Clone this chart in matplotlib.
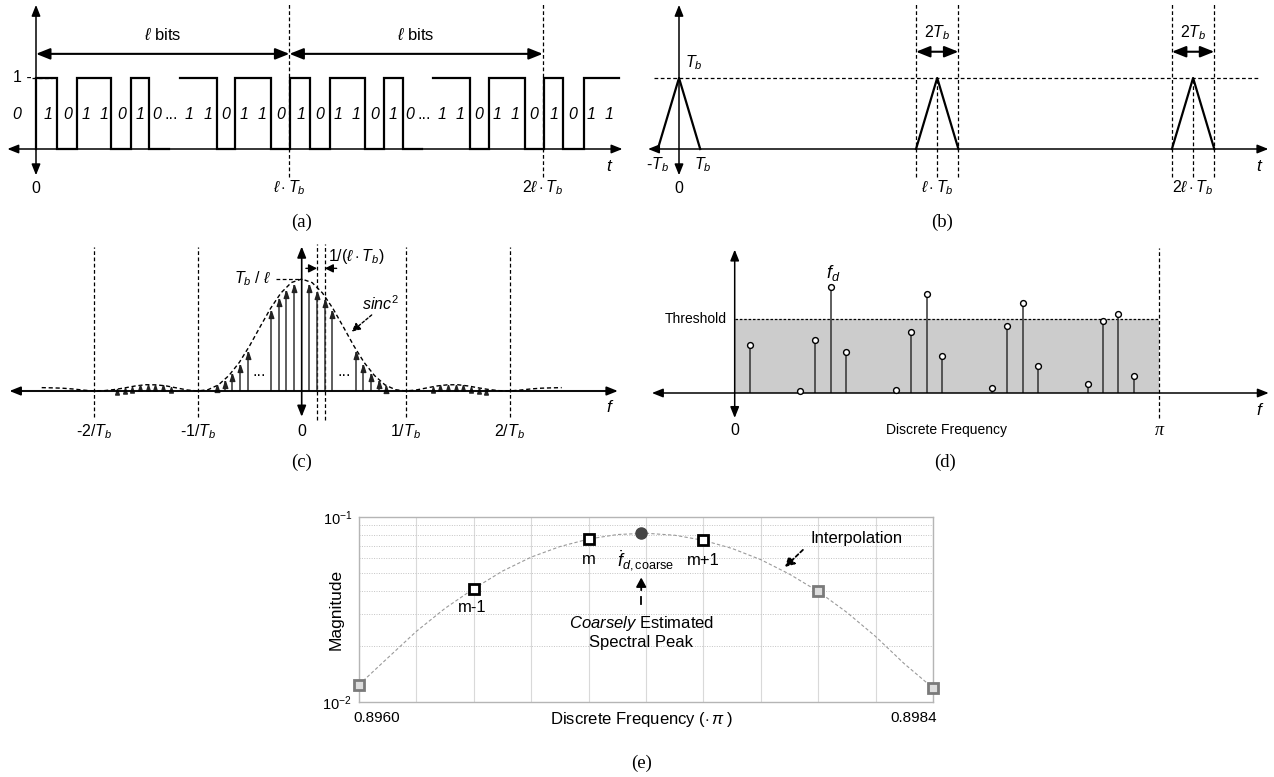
import numpy as np
import matplotlib.pyplot as plt
from matplotlib.ticker import FixedLocator, NullFormatter

plt.rcParams['font.family'] = ['Liberation Sans', 'DejaVu Sans']
plt.rcParams['mathtext.fontset'] = 'custom'
plt.rcParams['mathtext.rm'] = 'Liberation Sans'
plt.rcParams['mathtext.it'] = 'Liberation Sans:italic'
plt.rcParams['mathtext.bf'] = 'Liberation Sans:bold'

# ---------------- values ----------------
# (a) bit stream: runs of constant level, time in bit periods
run_start = [0.0, 1.15, 2.28, 4.16, 5.23, 6.25, 7.98, 10.0, 11.02, 13.0,
             14.05, 15.12, 16.26, 18.15, 19.21, 20.27, 21.96, 23.99, 25.03, 27.03,
             28.05, 29.13, 30.26]
run_end = [1.15, 2.28, 4.16, 5.23, 6.25, 7.33, 10.0, 11.02, 13.0, 14.05,
           15.12, 16.26, 18.15, 19.21, 20.27, 21.3, 23.99, 25.03, 27.03, 28.05,
           29.13, 30.26, 32.2]
run_level = [1, 0, 1, 0, 1, 0, 1, 0, 1, 0,
             1, 0, 1, 0, 1, 0, 1, 0, 1, 0,
             1, 0, 1]
bit_x = [-1.09, 0.67, 1.73, 2.75, 3.76, 4.71, 5.72, 6.69, 7.48, 8.45, 9.51,
         10.48, 11.47, 12.51, 13.53, 14.63, 15.67, 16.68, 17.7, 18.71, 19.7,
         20.63, 21.46, 22.43, 23.45, 24.44, 25.47, 26.49, 27.51, 28.61, 29.65,
         30.66, 31.68]
bit_txt = ["0", "1", "0", "1", "1", "0", "1", "0", "...", "1", "1",
           "0", "1", "1", "0", "1", "0", "1", "1", "0", "1",
           "0", "...", "1", "1", "0", "1", "1", "0", "1", "0",
           "1", "1"]
period_a = 14.0            # l*Tb in bit periods

# (b) triangular peaks, time in Tb
tri_center = [0.0, 12.18, 24.25]
tri_half = 1.0
tri_height = 1.0

# (c) line spectrum, f in 1/Tb, height relative to Tb/l
line_step = 0.074
main_k = [-11, -10, -9, -8, -7, -4, -3, -2, -1, 1, 2, 3, 4, 7, 8, 9, 10, 11]
main_h = [0.05, 0.09, 0.155, 0.235, 0.345, 0.71, 0.82, 0.89, 0.95,
          0.95, 0.885, 0.81, 0.71, 0.345, 0.235, 0.155, 0.09, 0.045]
side_k = [-24, -23, -22, -21, -20, -19, -18, -17, 17, 18, 19, 20, 21, 22, 23, 24]
side_h = [0.016, 0.027, 0.04, 0.05, 0.055, 0.055, 0.05, 0.04,
          0.04, 0.05, 0.055, 0.055, 0.05, 0.04, 0.027, 0.016]
env_f = [-2.5, -2.4, -2.3, -2.2, -2.1, -2.0, -1.9, -1.8, -1.7, -1.6, -1.5,
         -1.4, -1.3, -1.2, -1.1, -1.0, -0.9, -0.8, -0.7, -0.6, -0.5, -0.4,
         -0.3, -0.2, -0.1, 0.0, 0.1, 0.2, 0.3, 0.4, 0.5, 0.6, 0.7, 0.8, 0.9,
         1.0, 1.1, 1.2, 1.3, 1.4, 1.5, 1.6, 1.7, 1.8, 1.9, 2.0, 2.1, 2.2, 2.3,
         2.4, 2.5]
env_h = [0.03, 0.028, 0.025, 0.018, 0.008, 0.0, 0.003, 0.013, 0.028, 0.045,
         0.056, 0.055, 0.045, 0.027, 0.009, 0.0, 0.012, 0.055, 0.138, 0.255,
         0.405, 0.573, 0.737, 0.875, 0.968, 1.0, 0.968, 0.875, 0.737, 0.573,
         0.405, 0.255, 0.138, 0.055, 0.012, 0.0, 0.009, 0.027, 0.045, 0.055,
         0.056, 0.045, 0.028, 0.013, 0.003, 0.0, 0.008, 0.018, 0.025, 0.028,
         0.03]

# (d) discrete spectrum, f in units of pi, height relative to threshold
stem_x = [0.035, 0.154, 0.19, 0.226, 0.263, 0.38, 0.416, 0.452, 0.489,
          0.606, 0.642, 0.678, 0.714, 0.832, 0.868, 0.904, 0.94]
stem_h = [0.641, 0.022, 0.717, 1.426, 0.547, 0.045, 0.816, 1.332, 0.502,
          0.072, 0.897, 1.211, 0.359, 0.121, 0.964, 1.063, 0.224]
threshold = 1.0

# (e) coarse peak search
bin_x = [0.8960, 0.89648, 0.89696, 0.89744, 0.89792, 0.8984]
bin_mag = [0.0124, 0.0410, 0.0760, 0.0748, 0.0396, 0.0119]
bin_used = [False, True, True, True, False, False]
peak_x, peak_mag = 0.89718, 0.0816
interp_x = [0.89600, 0.89612, 0.89624, 0.89636, 0.89648, 0.89660, 0.89672,
            0.89684, 0.89696, 0.89708, 0.89720, 0.89732, 0.89744, 0.89756,
            0.89768, 0.89780, 0.89792, 0.89804, 0.89816, 0.89828, 0.89840]
interp_mag = [0.0124, 0.0173, 0.0241, 0.0321, 0.0410, 0.0510, 0.0607,
              0.0692, 0.0760, 0.0804, 0.0817, 0.0797, 0.0748, 0.0676,
              0.0588, 0.0491, 0.0396, 0.0305, 0.0226, 0.0161, 0.0119]

# ---------------- figure ----------------
W, H = 1274, 777
fig = plt.figure(figsize=(W / 100, H / 100), dpi=100)

FS = 11.5
DASH = (0, (3, 2))
HEAD = [(0, 0), (-0.33, -1), (0.33, -1), (0, 0)]


def panel(box, origin, scale):
    """Axes over a pixel box; origin/scale map data units to pixels."""
    x0, y0, x1, y1 = box
    ax = fig.add_axes([x0 / W, 1 - y1 / H, (x1 - x0) / W, (y1 - y0) / H])
    ox, oy = origin
    sx, sy = scale
    ax.set_xlim((x0 - ox) / sx, (x1 - ox) / sx)
    ax.set_ylim((oy - y1) / sy, (oy - y0) / sy)
    ax.axis('off')
    return ax


def arrow(ax, p0, p1, style='<|-|>', hl=0.55, hw=0.22, ms=12, lw=1.1,
          color='black', ls='-'):
    ax.annotate('', xy=p1, xytext=p0,
                arrowprops=dict(arrowstyle=f'{style},head_length={hl},head_width={hw}',
                                mutation_scale=ms, lw=lw, color=color,
                                linestyle=ls, shrinkA=0, shrinkB=0))


def caption(x, y, s):
    fig.text(x / W, 1 - y / H, s, ha='center', va='center', size=13.5,
             family=['Liberation Serif', 'DejaVu Serif'])


# ---- (a) ----
ax = panel((0, 0, 637, 240), (36, 149), (18.1, 71))
arrow(ax, (-1.58, 0), (32.4, 0))
arrow(ax, (0, -0.37), (0, 2.03))
for xv in (period_a, 2 * period_a):
    ax.plot([xv, xv], [-0.39, 2.05], ls=DASH, lw=0.9, color='k')

lines, cur = [], [(run_start[0], 0)]
for i, (s, e, v) in enumerate(zip(run_start, run_end, run_level)):
    if i > 0 and s != run_end[i - 1]:
        lines.append(cur)
        cur = []
    cur += [(s, v), (e, v)]
lines.append(cur)
for ln in lines:
    xs, ys = zip(*ln)
    ax.plot(xs, ys, color='k', lw=1.6, solid_joinstyle='miter')

for x, t in zip(bit_x, bit_txt):
    ax.text(x, 0.49, t, ha='center', va='center', size=FS,
            style='normal' if t == '...' else 'italic')
ax.text(-0.25, 1.0, '1 -', ha='right', va='center', size=FS)
ax.plot([-0.2, 0.9], [1.0, 1.0], ls=DASH, lw=0.9, color='k')
for a, b in ((0, period_a), (period_a, 2 * period_a)):
    arrow(ax, (a, 1.34), (b, 1.34), hl=0.7, hw=0.28, lw=1.5)
    ax.text((a + b) / 2, 1.6, r'$\ell$ bits', ha='center', va='center', size=FS + 0.5)
ax.text(0, -0.55, '0', ha='center', va='center', size=FS)
ax.text(period_a, -0.55, r'$\ell\cdot T_b$', ha='center', va='center', size=FS)
ax.text(2 * period_a, -0.55, r'$2\ell\cdot T_b$', ha='center', va='center', size=FS)
ax.text(31.7, -0.25, r'$t$', ha='center', va='center', size=FS + 1)
caption(302, 222, '(a)')

# ---- (b) ----
ax = panel((637, 0, 1274, 240), (679, 149), (21.2, 71))
arrow(ax, (-1.46, 0), (27.8, 0))
arrow(ax, (0, -0.37), (0, 2.03))
ax.plot([-1.18, 27.3], [tri_height, tri_height], ls=DASH, lw=0.9, color='k')
for c in tri_center:
    ax.plot([c - tri_half, c, c + tri_half], [0, tri_height, 0], color='k', lw=1.6)
for c in tri_center[1:]:
    for xv in (c - tri_half, c + tri_half):
        ax.plot([xv, xv], [-0.39, 2.05], ls=DASH, lw=0.9, color='k')
    ax.plot([c, c], [-0.39, tri_height], ls=DASH, lw=0.9, color='k')
    arrow(ax, (c - tri_half, 1.37), (c + tri_half, 1.37), hl=0.7, hw=0.28, lw=1.5)
    ax.text(c, 1.64, r'2$T_b$', ha='center', va='center', size=FS)
ax.text(0.3, 1.21, r'$T_b$', ha='left', va='center', size=FS)
ax.text(-1.0, -0.22, r'-$T_b$', ha='center', va='center', size=FS)
ax.text(1.12, -0.22, r'$T_b$', ha='center', va='center', size=FS)
ax.text(0, -0.55, '0', ha='center', va='center', size=FS)
ax.text(tri_center[1], -0.55, r'$\ell\cdot T_b$', ha='center', va='center', size=FS)
ax.text(tri_center[2], -0.55, r'$2\ell\cdot T_b$', ha='center', va='center', size=FS)
ax.text(27.4, -0.25, r'$t$', ha='center', va='center', size=FS + 1)
caption(942, 222, '(b)')

# ---- (c) ----
ax = panel((0, 235, 637, 480), (301.7, 391), (104, 112))
arrow(ax, (-2.81, 0), (3.04, 0), lw=1.3)
ax.plot([-2.72, 2.95], [0, 0], color='#8a8a8a', lw=1.5)
for xv in (-2, -1, 1, 2):
    ax.plot([xv, xv], [-0.23, 1.29], ls=DASH, lw=0.9, color='k')
for k in (2, 3):
    ax.plot([k * line_step] * 2, [-0.26, 1.31], ls=DASH, lw=0.9, color='k')
ax.plot(env_f, env_h, ls=DASH, lw=1.0, color='k')
fx = [k * line_step for k in main_k]
ax.vlines(fx, 0, main_h, color='#333333', lw=1.1)
ax.plot(fx, main_h, ls='none', marker=HEAD, ms=10, color='#222222')
sx = [k * line_step for k in side_k]
ax.vlines(sx, 0, side_h, color='#333333', lw=0.9)
ax.plot(sx, side_h, ls='none', marker=HEAD, ms=8, color='#222222')
arrow(ax, (0, -0.23), (0, 1.29), lw=1.2)
ax.plot([-0.25, 0], [1.0, 1.0], ls=DASH, lw=0.9, color='k')
ax.text(-0.29, 1.0, r'$T_b$ / $\ell$', ha='right', va='center', size=FS)
arrow(ax, (0.04, 1.095), (2 * line_step, 1.095), style='-|>', hl=0.5, hw=0.25, ms=10, lw=1.0)
arrow(ax, (0.336, 1.095), (3 * line_step, 1.095), style='-|>', hl=0.5, hw=0.25, ms=10, lw=1.0)
ax.text(0.256, 1.2, r'1/($\ell\cdot T_b$)', ha='left', va='center', size=FS)
ax.text(0.761, 0.783, r'$sinc^2$', ha='center', va='center', size=FS)
arrow(ax, (0.673, 0.679), (0.481, 0.53), style='-|>', hl=0.5, hw=0.25, ms=10,
      lw=1.0, ls=(0, (2, 1.5)))
ax.text(-0.405, 0.17, '...', ha='center', va='center', size=FS)
ax.text(0.408, 0.17, '...', ha='center', va='center', size=FS)
for xv, t in zip((-2, -1, 0, 1, 2),
                 (r'-2/$T_b$', r'-1/$T_b$', '0', r'1/$T_b$', r'2/$T_b$')):
    ax.text(xv, -0.366, t, ha='center', va='center', size=FS)
ax.text(2.97, -0.14, r'$f$', ha='center', va='center', size=FS + 1)
caption(302, 462, '(c)')

# ---- (d) ----
ax = panel((637, 235, 1274, 480), (734.7, 393), (424.5, 74.3))
ax.fill_between([0, 1], 0, threshold, color='#cccccc', lw=0, zorder=0)
ax.plot([0, 1], [threshold, threshold], ls=(0, (2, 1.5)), lw=0.9, color='k')
ax.plot([1, 1], [-0.33, 1.95], ls=DASH, lw=0.9, color='k')
arrow(ax, (-0.195, 0), (1.258, 0))
arrow(ax, (0, -0.336), (0, 1.93))
ax.vlines(stem_x, 0, stem_h, color='#333333', lw=1.1, zorder=2)
ax.plot(stem_x, stem_h, ls='none', marker='o', ms=4.2, mfc='white',
        mec='black', mew=1.0, zorder=3)
ax.text(-0.018, threshold, 'Threshold', ha='right', va='center', size=10)
ax.text(0.232, 1.62, r'$f_d$', ha='center', va='center', size=FS + 1.5)
ax.text(0, -0.5, '0', ha='center', va='center', size=FS)
ax.text(0.5, -0.5, 'Discrete Frequency', ha='center', va='center', size=10)
ax.text(1, -0.5, 'π', ha='center', va='center', size=13, style='italic',
        family=['Liberation Serif', 'DejaVu Serif'])
ax.text(1.237, -0.23, r'$f$', ha='center', va='center', size=FS + 1)
caption(945, 462, '(d)')

# ---- (e) ----
ax = fig.add_axes([359 / W, 1 - 702 / H, 574 / W, 185 / H])
ax.set_yscale('log')
ax.set_xlim(0.8960, 0.8984)
ax.set_ylim(0.01, 0.1)
ax.xaxis.set_major_locator(FixedLocator(np.linspace(0.8960, 0.8984, 11)))
ax.xaxis.set_major_formatter(NullFormatter())
ax.yaxis.set_major_locator(FixedLocator([0.01, 0.1]))
ax.yaxis.set_minor_locator(FixedLocator([0.02, 0.03, 0.04, 0.05, 0.06, 0.07, 0.08, 0.09]))
ax.yaxis.set_minor_formatter(NullFormatter())
ax.tick_params(which='both', length=0)
ax.tick_params(axis='y', labelsize=10.5, pad=5)
ax.grid(True, axis='x', which='major', color='#d9d9d9', lw=0.8)
ax.grid(True, axis='y', which='minor', color='#c4c4c4', lw=0.7, ls=(0, (1, 1.5)))
for s in ax.spines.values():
    s.set_color('#b5b5b5')
    s.set_linewidth(1.0)

ax.plot(interp_x, interp_mag, ls=(0, (3, 2)), lw=0.8, color='#9a9a9a')
for x, m, used in zip(bin_x, bin_mag, bin_used):
    ax.plot(x, m, marker='s', ms=7, mfc='white' if used else '#dddddd',
            mec='black' if used else '#7a7a7a', mew=2, clip_on=False, zorder=4)
ax.plot(peak_x, peak_mag, marker='o', ms=8, color='#444444', zorder=4, clip_on=False)

ES = 12
ax.text(0.896474, 0.0325, 'm-1', ha='center', va='center', size=ES)
ax.text(0.89696, 0.0591, 'm', ha='center', va='center', size=ES)
ax.text(0.8972, 0.0582, r'$\dot{f}_{d,\mathrm{coarse}}$', ha='center', va='center', size=13)
ax.text(0.897438, 0.0581, 'm+1', ha='center', va='center', size=ES)
ax.text(0.897889, 0.0767, 'Interpolation', ha='left', va='center', size=ES)
arrow(ax, (0.897856, 0.0664), (0.897781, 0.0537), style='-|>', hl=0.55, hw=0.3,
      ms=10, lw=1.3, ls=(0, (2, 1.5)))
arrow(ax, (peak_x, 0.0402), (peak_x, 0.0471), style='-|>', hl=0.55, hw=0.3,
      ms=10, lw=1.3)
ax.plot([peak_x, peak_x], [0.034, 0.037], color='k', lw=1.3)
ax.text(0.897181, 0.0265, r'$\mathit{Coarsely}$ Estimated', ha='center', va='center', size=ES)
ax.text(0.897181, 0.0211, 'Spectral Peak', ha='center', va='center', size=ES)
ax.annotate('0.8960', xy=(0.8960, 0), xycoords=('data', 'axes fraction'),
            xytext=(-6, -16), textcoords='offset pixels', ha='left', va='center', size=11)
ax.annotate('0.8984', xy=(0.8984, 0), xycoords=('data', 'axes fraction'),
            xytext=(4, -16), textcoords='offset pixels', ha='right', va='center', size=11)
ax.set_ylabel('Magnitude', size=12.5)
ax.yaxis.set_label_coords(-0.026, 0.5)
ax.text(0.493, -0.097, r'Discrete Frequency ($\cdot\,\pi$ )', transform=ax.transAxes,
        ha='center', va='center', size=ES)
caption(642, 763, '(e)')

fig.savefig('out.png', dpi=100)
